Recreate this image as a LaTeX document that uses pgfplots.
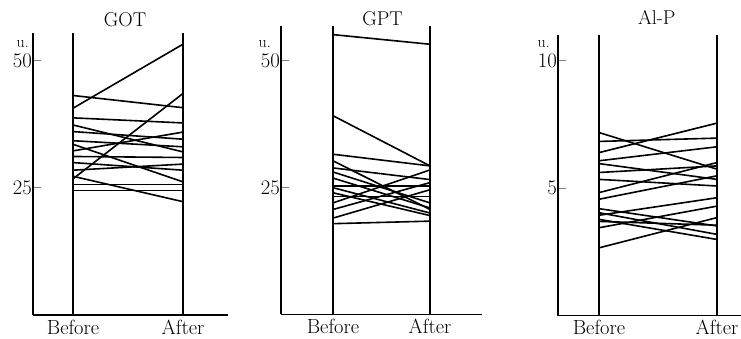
\documentclass[border=0pt]{standalone}
\usepackage{pgfplots}
\pgfplotsset{compat=1.18}
\newcommand{\tfont}{\fontsize{20.5}{22}\selectfont}
\newcommand{\ttfont}{\fontsize{20}{22}\selectfont}
\newcommand{\ufont}{\fontsize{16}{18}\selectfont}
\pgfplotsset{
  panel/.style={
    scale only axis, anchor=south west,
    axis x line=bottom, axis y line=left,
    axis line style={-, line width=1.2pt},
    ymin=0, xtick={0,1}, xticklabels={Before,After},
    xtick style={draw=none},
    ytick style={line width=1pt},
    major tick length=8pt,
    tick align=inside,
    clip=false,
    tick label style={font=\tfont},
    xticklabel style={yshift=-1.2pt},
    yticklabel style={inner sep=1pt},
  },
  vline/.style={line width=1.2pt, black, solid, mark=none},
  dl/.style={line width=1.6pt, black, solid, mark=none},
}
\begin{document}
\begin{tikzpicture}
\path[use as bounding box] (0pt,0pt) rectangle (741pt,338pt);
% ---------------- GOT ----------------
\begin{axis}[panel, at={(33pt,23pt)}, width=195pt, height=282pt,
  xmin=-0.364, xmax=1.409, ymax=55.5, ytick={25,50}]
\addplot[vline] coordinates {(0,0) (0,55.5)};
\addplot[vline] coordinates {(1,0) (1,55.5)};
\addplot[dl] coordinates {(0,40.7) (1,53.3)};
\addplot[dl] coordinates {(0,43.2) (1,40.8)};
\addplot[dl] coordinates {(0,38.8) (1,37.8)};
\addplot[dl] coordinates {(0,37.4) (1,32.1)};
\addplot[dl] coordinates {(0,36.1) (1,34.6)};
\addplot[dl] coordinates {(0,26.8) (1,43.6)};
\addplot[dl] coordinates {(0,34.3) (1,33.1)};
\addplot[dl] coordinates {(0,33.6) (1,26.2)};
\addplot[dl] coordinates {(0,32.3) (1,36.0)};
\addplot[dl] coordinates {(0,31.2) (1,31.0)};
\addplot[dl] coordinates {(0,30.0) (1,28.5)};
\addplot[dl] coordinates {(0,28.5) (1,29.7)};
\addplot[dl] coordinates {(0,27.3) (1,22.3)};
\addplot[dl] coordinates {(0,25.7) (1,25.7)};
\addplot[dl] coordinates {(0,24.5) (1,24.5)};
\node[anchor=base, font=\ttfont] at ([yshift=6.5pt]rel axis cs:0.472,1) {GOT};
\node[anchor=base east, font=\ufont, inner sep=0pt] at ([xshift=-4pt,yshift=13pt]axis cs:-0.364,50) {u.};
\end{axis}
% ---------------- GPT ----------------
\begin{axis}[panel, at={(281pt,23.6pt)}, width=201pt, height=288.4pt,
  xmin=-0.536, xmax=1.536, ymax=56.9, ytick={25,50}]
\addplot[vline] coordinates {(0,0) (0,56.9)};
\addplot[vline] coordinates {(1,0) (1,56.9)};
\addplot[dl] coordinates {(0,55.2) (1,53.3)};
\addplot[dl] coordinates {(0,39.2) (1,29.3)};
\addplot[dl] coordinates {(0,31.6) (1,29.3)};
\addplot[dl] coordinates {(0,30.3) (1,20.7)};
\addplot[dl] coordinates {(0,28.9) (1,26.6)};
\addplot[dl] coordinates {(0,28.1) (1,22.0)};
\addplot[dl] coordinates {(0,26.9) (1,21.0)};
\addplot[dl] coordinates {(0,25.3) (1,25.3)};
\addplot[dl] coordinates {(0,25.0) (1,20.0)};
\addplot[dl] coordinates {(0,24.0) (1,19.5)};
\addplot[dl] coordinates {(0,23.3) (1,23.3)};
\addplot[dl] coordinates {(0,22.0) (1,28.5)};
\addplot[dl] coordinates {(0,20.7) (1,26.0)};
\addplot[dl] coordinates {(0,19.0) (1,24.6)};
\addplot[dl] coordinates {(0,17.9) (1,18.4)};
\node[anchor=base, font=\ttfont] at ([yshift=0.5pt]rel axis cs:0.505,1) {GPT};
\node[anchor=base east, font=\ufont, inner sep=0pt] at ([xshift=-10pt,yshift=13pt]axis cs:-0.536,50) {u.};
\end{axis}
% ---------------- Al-P ----------------
\begin{axis}[panel, at={(558pt,22.4pt)}, width=183pt, height=280.6pt,
  xmin=-0.347, xmax=1.203, ymax=11.02, ytick={5,10}]
\addplot[vline] coordinates {(0,0) (0,11.02)};
\addplot[vline] coordinates {(1,0) (1,11.02)};
\addplot[dl] coordinates {(0,7.19) (1,5.75)};
\addplot[dl] coordinates {(0,6.84) (1,6.97)};
\addplot[dl] coordinates {(0,6.40) (1,7.56)};
\addplot[dl] coordinates {(0,6.08) (1,6.63)};
\addplot[dl] coordinates {(0,5.97) (1,5.35)};
\addplot[dl] coordinates {(0,5.62) (1,5.88)};
\addplot[dl] coordinates {(0,5.35) (1,5.09)};
\addplot[dl] coordinates {(0,4.83) (1,6.01)};
\addplot[dl] coordinates {(0,4.57) (1,5.49)};
\addplot[dl] coordinates {(0,4.20) (1,3.52)};
\addplot[dl] coordinates {(0,4.04) (1,3.19)};
\addplot[dl] coordinates {(0,3.94) (1,4.63)};
\addplot[dl] coordinates {(0,3.78) (1,2.99)};
\addplot[dl] coordinates {(0,3.45) (1,4.30)};
\addplot[dl] coordinates {(0,3.70) (1,3.55)};
\addplot[dl] coordinates {(0,2.66) (1,3.85)};
\node[anchor=base, font=\ttfont] at ([yshift=10pt]rel axis cs:0.54,1) {Al-P};
\node[anchor=base east, font=\ufont, inner sep=0pt] at ([xshift=-8pt,yshift=13pt]axis cs:-0.347,10) {u.};
\end{axis}
\end{tikzpicture}
\end{document}
